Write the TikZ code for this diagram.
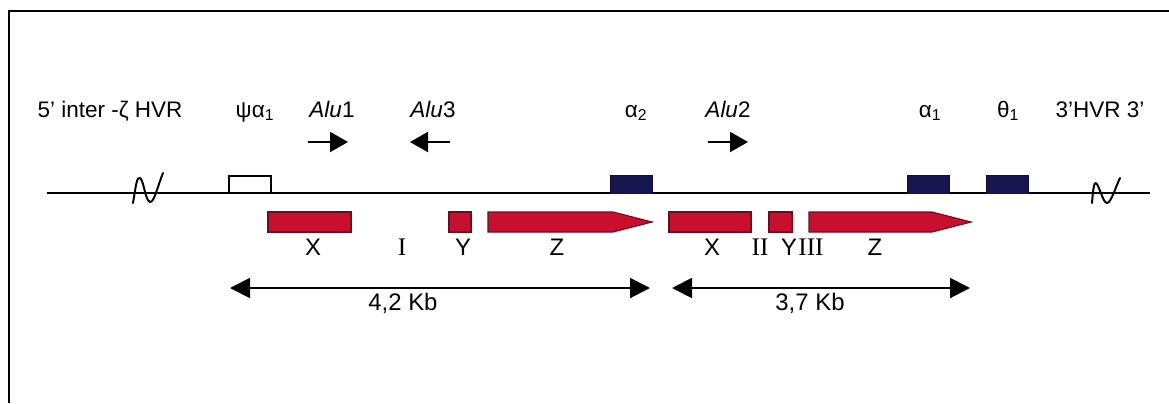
\documentclass[tikz,border=0pt]{standalone}
\usepackage{fontspec}
\setmainfont{Liberation Sans}
\newfontfamily\romfont{Liberation Serif}
\usetikzlibrary{arrows.meta, positioning}
\definecolor{navy}{RGB}{22,22,80}
\definecolor{homred}{RGB}{200,16,46}
\definecolor{homdark}{RGB}{110,10,30}

\begin{document}
\begin{tikzpicture}[
    x=0.025cm, y=-0.025cm,
    % Styles
    dna/.style={line width=1.3pt, draw=black},
    brk/.style={line width=1.4pt, line cap=round, line join=round},
    genebox/.style={minimum width=1.05cm, minimum height=0.43cm, inner sep=0pt, outer sep=0pt, anchor=south west},
    pseudo/.style={genebox, draw=black, line width=1pt, fill=white},
    globin/.style={genebox, draw=navy!70!black, fill=navy, line width=0.6pt},
    homol/.style={draw=homdark, fill=homred, line width=0.8pt, inner sep=0pt, outer sep=0pt, minimum height=0.5cm, anchor=north west},
    lbl/.style={font=\fontsize{16}{18}\selectfont, inner sep=0pt, anchor=base},
    seg/.style={font=\fontsize{17}{19}\selectfont, inner sep=0pt, anchor=base},
    roman/.style={font=\romfont\fontsize{18}{19}\selectfont, inner sep=0pt, anchor=base},
    alu/.style={-{Triangle[length=0.45cm, width=0.5cm]}, line width=1.4pt},
    kbspan/.style={{Triangle[length=0.5cm, width=0.5cm]}-{Triangle[length=0.5cm, width=0.5cm]}, line width=1.4pt}
]
\useasboundingbox (0,0) rectangle (1169,403);

% frame
\draw[line width=1pt] (9,403) -- (9,11) -- (1169,11);

% DNA LINE
\coordinate (dnaL) at (47,193);
\coordinate (dnaR) at (1150,193);
\draw[dna] (dnaL) -- (dnaR);

% breaks
\draw[brk] (133,203) .. controls (136,185) and (137,176) .. (140,178)
           .. controls (144,181) and (145,200) .. (150,202)
           .. controls (154,203) and (158,185) .. (163,173);
\draw[brk] (1092,203) .. controls (1093,190) and (1094,182) .. (1096,183)
           .. controls (1099,185) and (1103,203) .. (1107,203)
           .. controls (1111,203) and (1116,186) .. (1120,178);

% GENES
\node[pseudo] (psi) at (229,193) {};
\node[globin] (a2) at (610,193) {};
\node[globin] (a1) at (907,193) {};
\node[globin] (t1) at (986,193) {};

% TOP LABELS
\node[lbl] (l5) at (110,117) {5' inter -ζ HVR};
\node[lbl] (lpsi) at (255,117) {ψα\textsubscript{1}};
\node[lbl] (lalu1) at (332,117) {\textit{Alu}1};
\node[lbl] (lalu3) at (433,117) {\textit{Alu}3};
\node[lbl] (la2) at (636,117) {α\textsubscript{2}};
\node[lbl] (lalu2) at (728,117) {\textit{Alu}2};
\node[lbl] (la1) at (930,117) {α\textsubscript{1}};
\node[lbl] (lt1) at (1008,117) {θ\textsubscript{1}};
\node[lbl] (l3) at (1100,117) {3'HVR 3'};

% Alu orientation
\coordinate (alu1s) at (308,142); \coordinate (alu1e) at (348,142);
\coordinate (alu3s) at (450,142); \coordinate (alu3e) at (410,142);
\coordinate (alu2s) at (708,142); \coordinate (alu2e) at (748,142);
\draw[alu] (alu1s) -- (alu1e);
\draw[alu] (alu3s) -- (alu3e);
\draw[alu] (alu2s) -- (alu2e);

% HOMOLOGY BLOCKS
\node[homol, minimum width=2.075cm] (x1) at (268,212) {};
\node[homol, minimum width=0.55cm] (y1) at (449,212) {};
\draw[homol] (488,212) -- (613,212) -- (652,222) -- (613,232) -- (488,232) -- cycle;
\node[homol, minimum width=2.05cm] (x2) at (669,212) {};
\node[homol, minimum width=0.575cm] (y2) at (769,212) {};
\draw[homol] (809,212) -- (932,212) -- (971,222) -- (932,232) -- (809,232) -- cycle;

\node[seg] (lx1) at (313,255) {X};
\node[roman] (li) at (402,255) {I};
\node[seg] (ly1) at (463,255) {Y};
\node[seg] (lz1) at (557,255) {Z};
\node[seg] (lx2) at (712,255) {X};
\node[roman] (lii) at (760,255) {II};
\node[seg] (ly2) at (789,255) {Y};
\node[roman] (liii) at (811,255) {III};
\node[seg] (lz2) at (875,255) {Z};

% DISTANCES
\coordinate (k1s) at (230,288); \coordinate (k1e) at (650,288);
\coordinate (k2s) at (672,288); \coordinate (k2e) at (970,288);
\draw[kbspan] (k1s) -- (k1e);
\draw[kbspan] (k2s) -- (k2e);
\node[seg] (kb1) at (403,310) {4,2 Kb};
\node[seg] (kb2) at (810,310) {3,7 Kb};

\end{tikzpicture}
\end{document}
